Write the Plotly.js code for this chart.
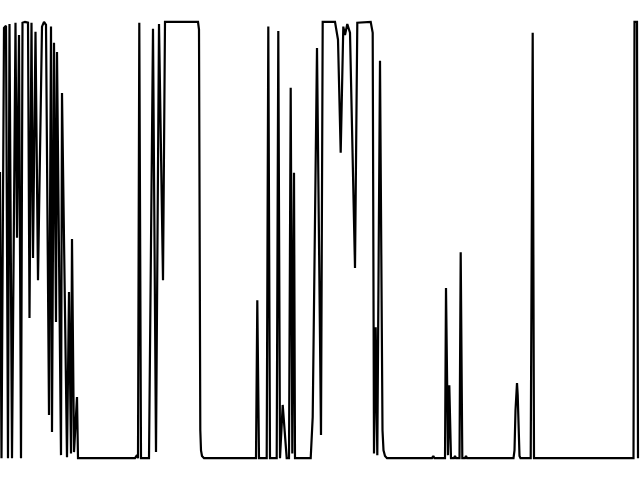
<!DOCTYPE html>
<html>
<head>
<meta charset="utf-8">
<script src="https://cdn.plot.ly/plotly-3.0.1.min.js"></script>
<style>html,body{margin:0;padding:0;background:#fff;}#chart{width:640px;height:480px;}</style>
</head>
<body>
<div id="chart"></div>
<script>
// time steps
const t = [0,1.5,4,6,8,9.5,12,15.5,17,19,21,22.5,25,28,29.5,31.5,33,35.5,38,42,44,46,49,51,52,54,56,57,61,62,67,69,71,72,74,77,78,
135,137,138,139.3,141,149,153,156,159,163,165,180,190,198,199,199.7,200.3,201,202,204,
256,257.3,259,266.7,268.3,270,276.7,278.3,280,282.7,285,286.7,289,290.7,292.3,294,295,
310.7,312.7,317,321,322.7,335,338,340.7,343.3,345,347.3,350,355,357.3,370.7,372.7,374,375.7,377.3,380,382.5,383.5,385,387,
432,433.3,434.5,445,446,448,449.3,451,454,455,456,459.5,460.7,462.3,465,466,467,
513.5,514.5,515.5,516.3,517,517.7,518.5,519.5,520.5,530.7,532.7,534,633.5,634.5,637,638];
// signal values
const values = [0.656,0,0.986,0.991,0,0.995,0,0.998,0.505,0.970,0,0.998,1,0.998,0.321,0.998,0.459,0.977,0.408,0.989,1,0.993,0.099,0.989,0.060,0.952,0.312,0.931,0.007,0.837,0.002,0.381,0.011,0.502,0.014,0.140,0,
0,0.007,0,0.998,0,0,0.984,0.014,0.995,0.408,1,1,1,1,0.982,0.362,0.064,0.018,0.005,0,
0,0.362,0,0,0.989,0,0,0.979,0,0.122,0.041,0,0,0.849,0.011,0.654,0,
0,0.094,0.940,0.053,1,1,0.959,0.700,0.989,0.970,0.995,0.975,0.436,0.998,1,0.975,0.011,0.300,0.007,0.911,0.064,0.018,0.005,0,
0,0.005,0,0,0.390,0.007,0.167,0,0,0.005,0,0,0.472,0,0,0.005,0,
0,0.018,0.110,0.167,0.172,0.145,0.041,0.005,0,0,0.975,0,0,1,1,0];

Plotly.newPlot('chart', [{
  x: t, y: values, type: 'scatter', mode: 'lines',
  line: {color: '#000000', width: 2.2}, hoverinfo: 'skip'
}], {
  width: 640, height: 480,
  margin: {l: 0, r: 0, t: 0, b: 0},
  paper_bgcolor: '#ffffff', plot_bgcolor: '#ffffff',
  showlegend: false,
  xaxis: {range: [0, 640], visible: false, showgrid: false, zeroline: false},
  yaxis: {range: [-0.05, 1.05], visible: false, showgrid: false, zeroline: false}
}, {staticPlot: true, displayModeBar: false});
</script>
</body>
</html>
